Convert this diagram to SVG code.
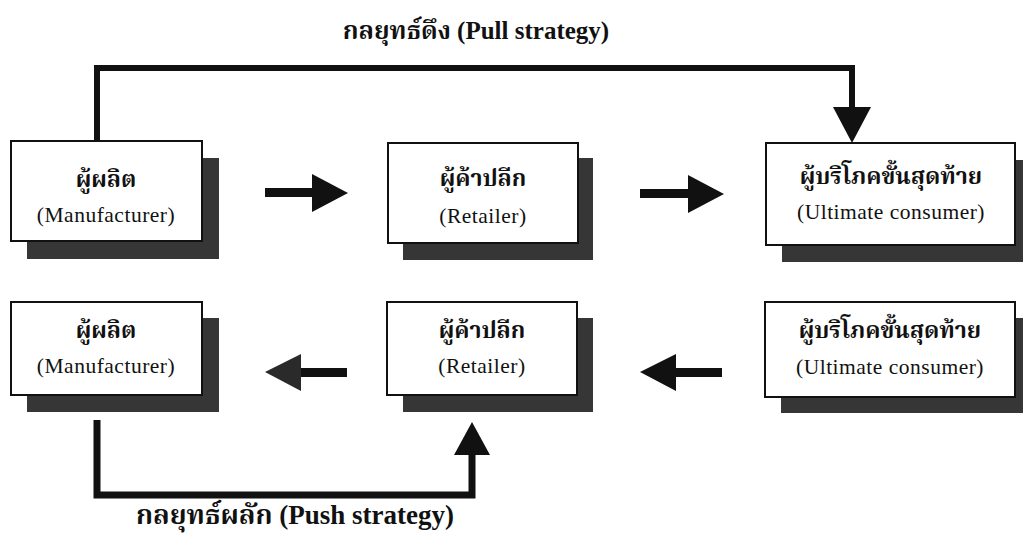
<svg xmlns="http://www.w3.org/2000/svg" width="1023" height="542" viewBox="0 0 1023 542">
<style>
.box{fill:#fff;stroke:#111;stroke-width:2}
.sh{fill:#363636}
.th{font-family:"Liberation Serif","Noto Serif Thai","Noto Sans Thai","Noto Sans",serif;font-size:23px;fill:#111;text-anchor:middle;font-weight:bold}
.en{font-family:"Liberation Serif",serif;font-size:21.5px;fill:#111;text-anchor:middle;letter-spacing:0.5px}
.ttl{font-family:"Liberation Serif","Noto Serif Thai","Noto Sans Thai",serif;font-size:25px;font-weight:bold;fill:#111;text-anchor:middle}
.ln{fill:none;stroke:#111;stroke-width:6}
.hd{fill:#111}
</style>
<rect width="1023" height="542" fill="#fff"/>
<text class="ttl" x="476" y="39">กลยุทธ์ดึง (Pull strategy)</text>
<text class="ttl" x="295" y="524" style="font-size:27px">กลยุทธ์ผลัก (Push strategy)</text>
<g id="connectors">
<polyline class="ln" points="97,141 97,68 852,68 852,108"/>
<polygon class="hd" points="833,107 871,107 852,143"/>
<polyline class="ln" points="97,420 97,495 472,495 472,454" style="stroke-width:7"/>
<polygon class="hd" points="454,455 490,455 472,422"/>
<rect class="hd" x="265" y="188" width="50" height="9"/>
<polygon class="hd" points="312,174 312,212 348,193"/>
<rect class="hd" x="640" y="189" width="50" height="9"/>
<polygon class="hd" points="688,175 688,213 724,194"/>
<rect class="hd" x="298" y="368" width="49" height="9"/>
<polygon class="hd" points="301,354 301,391 265,372" style="fill:#2a2a2a"/>
<rect class="hd" x="673" y="368" width="49" height="9"/>
<polygon class="hd" points="676,354 676,391 640,372"/>
</g>
<g id="n-manufacturer-top">
<rect class="sh" x="27" y="158" width="192" height="101"/>
<rect class="box" x="11" y="141" width="191" height="100"/>
<text class="th" x="106" y="187">ผู้ผลิต</text>
<text class="en" x="106" y="222">(Manufacturer)</text>
</g>
<g id="n-retailer-top">
<rect class="sh" x="403" y="158" width="190" height="102"/>
<rect class="box" x="388" y="143" width="190" height="100"/>
<text class="th" x="483" y="186">ผู้ค้าปลีก</text>
<text class="en" x="483" y="223">(Retailer)</text>
</g>
<g id="n-consumer-top">
<rect class="sh" x="782" y="160" width="245" height="102"/>
<rect class="box" x="766" y="143" width="249" height="102"/>
<text class="th" x="891" y="184">ผู้บริโภคขั้นสุดท้าย</text>
<text class="en" x="891" y="219">(Ultimate consumer)</text>
</g>
<g id="n-manufacturer-bottom">
<rect class="sh" x="27" y="318" width="192" height="94"/>
<rect class="box" x="11" y="302" width="191" height="93"/>
<text class="th" x="106" y="338">ผู้ผลิต</text>
<text class="en" x="106" y="373">(Manufacturer)</text>
</g>
<g id="n-retailer-bottom">
<rect class="sh" x="403" y="318" width="190" height="94"/>
<rect class="box" x="387" y="302" width="190" height="93"/>
<text class="th" x="482" y="338">ผู้ค้าปลีก</text>
<text class="en" x="482" y="373">(Retailer)</text>
</g>
<g id="n-consumer-bottom">
<rect class="sh" x="781" y="318" width="245" height="95"/>
<rect class="box" x="765" y="302" width="250" height="95"/>
<text class="th" x="890" y="338">ผู้บริโภคขั้นสุดท้าย</text>
<text class="en" x="890" y="374">(Ultimate consumer)</text>
</g>
</svg>
